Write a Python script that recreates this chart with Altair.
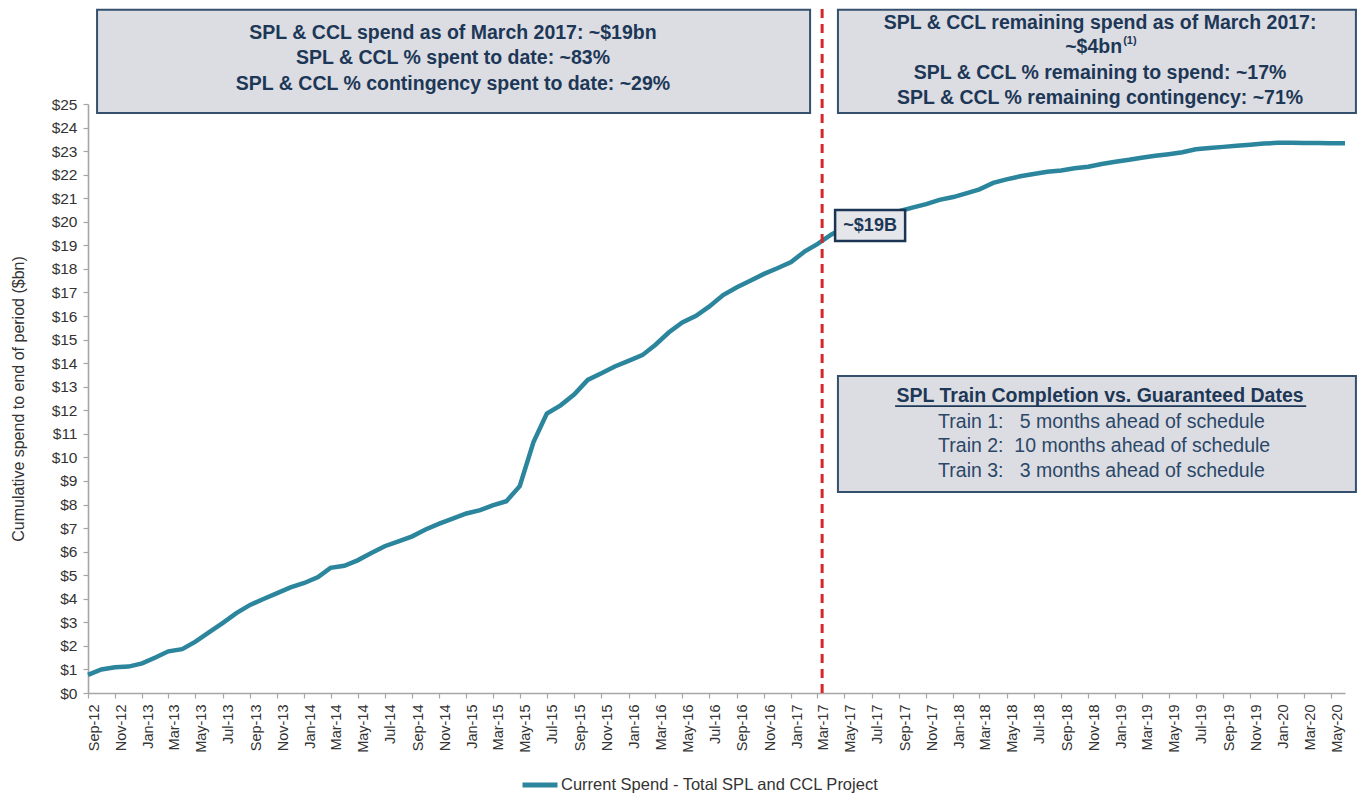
import altair as alt
import pandas as pd

# ---------------- data ----------------
months = pd.date_range("2012-09-01", periods=94, freq="MS").strftime("%Y-%m-%dT00:00:00").tolist()
spend = [
    0.77, 1.00, 1.09, 1.12, 1.26, 1.52, 1.77, 1.86, 2.18, 2.58,
    2.97, 3.39, 3.74, 3.99, 4.24, 4.48, 4.67, 4.92, 5.31, 5.40,
    5.63, 5.94, 6.23, 6.44, 6.65, 6.94, 7.19, 7.40, 7.62, 7.76,
    7.96, 8.14, 8.78, 10.65, 11.86, 12.21, 12.68, 13.29, 13.57, 13.86,
    14.10, 14.34, 14.77, 15.31, 15.73, 16.01, 16.41, 16.89, 17.22, 17.50,
    17.79, 18.03, 18.29, 18.75, 19.05, 19.45, 19.75, 19.95, 20.15, 20.30,
    20.45, 20.60, 20.75, 20.93, 21.05, 21.22, 21.38, 21.65, 21.80, 21.93,
    22.03, 22.12, 22.18, 22.27, 22.34, 22.45, 22.55, 22.63, 22.72, 22.80,
    22.87, 22.95, 23.08, 23.13, 23.18, 23.23, 23.27, 23.32, 23.35, 23.35,
    23.34, 23.34, 23.33, 23.33,
]
series_name = "Current Spend - Total SPL and CCL Project"
y_ticks = list(range(0, 26))

box1_lines = [
    "SPL & CCL spend as of March 2017: ~$19bn",
    "SPL & CCL % spent to date: ~83%",
    "SPL & CCL % contingency spent to date: ~29%",
]
box2_lines = [
    "SPL & CCL remaining spend as of March 2017:",
    "SPL & CCL % remaining to spend: ~17%",
    "SPL & CCL % remaining contingency: ~71%",
]
box2_amount = "~$4bn"
box2_note = "(1)"
box3_title = "SPL Train Completion vs. Guaranteed Dates"
box3_lines = [
    "Train 1:\u00a0\u00a0\u00a05 months ahead of schedule",
    "Train 2:\u00a0\u00a010 months ahead of schedule",
    "Train 3:\u00a0\u00a0\u00a03 months ahead of schedule",
]
callout = "~$19B"

# ---------------- helpers ----------------
START = pd.Timestamp("2012-09-01")


def at(m):
    """month offset from Sep-2012 -> local datetime string"""
    return (START + pd.Timedelta(days=m * 30.4328)).strftime("%Y-%m-%dT%H:%M:%S")


FONT = "Liberation Sans, Arial, sans-serif"
NAVY = "#1d3757"
BOX_FILL = "#dcdde2"
BOX_STROKE = "#34506e"
TEAL = "#2b859c"

line_df = pd.DataFrame({"month": months, "spend": spend, "series": series_name})

x_scale = alt.Scale(domain=[alt.DateTime(year=2012, month=9, date=1),
                            alt.DateTime(year=2020, month=6, date=1)])
y_scale = alt.Scale(domain=[0, 25], nice=False, zero=True)

X_AXIS = alt.Axis(title=None, format="%b-%y",
                  tickCount=alt.TimeIntervalStep(interval="month", step=2),
                  labelAngle=270, labelAlign="right", labelBaseline="middle",
                  labelOffset=6, labelPadding=6, labelFontSize=14.5,
                  labelFont=FONT, labelColor="#333333", grid=False,
                  domainColor="#a6a6a6", domainWidth=1.6,
                  tickColor="#a6a6a6", tickSize=5, tickWidth=1.2,
                  labelOverlap=False)
Y_AXIS = alt.Axis(title="Cumulative spend to end of period ($bn)",
                  values=y_ticks, labelExpr="'$' + datum.value",
                  labelOverlap=False,
                  labelFontSize=15.5, labelFont=FONT, labelColor="#333333",
                  labelPadding=6, grid=False,
                  domainColor="#a6a6a6", domainWidth=1.6,
                  tickColor="#a6a6a6", tickSize=5, tickWidth=1.2,
                  titleFont=FONT, titleFontSize=16, titleFontWeight="normal",
                  titleColor="#333333", titleAngle=270, titleAlign="center",
                  titleBaseline="middle", titleX=-70, titleY=294.5)


def X(field):
    return alt.X(field, scale=x_scale, axis=X_AXIS)


def Y(field):
    return alt.Y(field, scale=y_scale, axis=Y_AXIS)


line = alt.Chart(line_df).mark_line(strokeWidth=4.5, clip=False).encode(
    x=X("month:T"),
    y=Y("spend:Q"),
    color=alt.Color("series:N", scale=alt.Scale(range=[TEAL]),
                    legend=alt.Legend(title=None, orient="none", legendX=432, legendY=661,
                                      symbolType="stroke", symbolSize=1225,
                                      symbolStrokeWidth=5, labelFont=FONT,
                                      labelFontSize=16.5, labelColor="#333333",
                                      labelLimit=0, labelOffset=1, padding=0)),
)

# dashed March-2017 marker
rule_df = pd.DataFrame({"x": [at(54.31)], "y": [0.0], "y2": [29.4]})
rule = alt.Chart(rule_df).mark_rule(color="#d7262b", strokeWidth=3, strokeDash=[9, 6]).encode(
    x=X("x:T"), y=Y("y:Q"), y2="y2:Q")

# annotation boxes
boxes_df = pd.DataFrame({
    "x": [at(0.67), at(55.48), at(55.48)],
    "x2": [at(53.42), at(93.8), at(93.8)],
    "y": [29.0, 29.0, 13.45],
    "y2": [24.62, 24.62, 8.53],
})
boxes = alt.Chart(boxes_df).mark_rect(fill=BOX_FILL, stroke=BOX_STROKE, strokeWidth=2).encode(
    x=X("x:T"), x2="x2:T", y=Y("y:Q"), y2="y2:Q")

bold_df = pd.DataFrame({
    "x": [at(27.0)] * 3 + [at(74.87)] * 3,
    "y": [28.01, 26.95, 25.85, 28.44, 26.32, 25.25],
    "t": box1_lines + box2_lines,
})
bold_text = alt.Chart(bold_df).mark_text(font=FONT, fontSize=19.5, fontWeight="bold",
                                         color=NAVY, align="center", baseline="middle").encode(
    x=X("x:T"), y=Y("y:Q"), text="t:N")

amt_df = pd.DataFrame({"x": [at(76.5)], "y": [27.42], "t": [box2_amount]})
amt_text = alt.Chart(amt_df).mark_text(font=FONT, fontSize=19.5, fontWeight="bold",
                                       color=NAVY, align="right", baseline="middle").encode(
    x=X("x:T"), y=Y("y:Q"), text="t:N")
note_df = pd.DataFrame({"x": [at(76.58)], "y": [27.67], "t": [box2_note]})
note_text = alt.Chart(note_df).mark_text(font=FONT, fontSize=11, fontWeight="bold",
                                         color=NAVY, align="left", baseline="middle").encode(
    x=X("x:T"), y=Y("y:Q"), text="t:N")

title3_df = pd.DataFrame({"x": [at(74.87)], "y": [12.61], "t": [box3_title]})
title3 = alt.Chart(title3_df).mark_text(font=FONT, fontSize=19.5, fontWeight="bold",
                                        color=NAVY, align="center", baseline="middle").encode(
    x=X("x:T"), y=Y("y:Q"), text="t:N")
uline_df = pd.DataFrame({"x": [at(59.71)], "x2": [at(90.12)], "y": [12.18]})
uline = alt.Chart(uline_df).mark_rule(color=NAVY, strokeWidth=1.8).encode(
    x=X("x:T"), x2="x2:T", y=Y("y:Q"))

lines3_df = pd.DataFrame({"x": [at(62.89)] * 3, "y": [11.50, 10.48, 9.42], "t": box3_lines})
lines3 = alt.Chart(lines3_df).mark_text(font=FONT, fontSize=19.5, fontWeight="normal",
                                        color="#2b4768", align="left", baseline="middle").encode(
    x=X("x:T"), y=Y("y:Q"), text="t:N")

# ~$19B callout
call_box_df = pd.DataFrame({"x": [at(55.27)], "x2": [at(60.45)], "y": [20.50], "y2": [19.19]})
call_box = alt.Chart(call_box_df).mark_rect(fill="#e4e6ea", stroke="#1c3553", strokeWidth=2.5).encode(
    x=X("x:T"), x2="x2:T", y=Y("y:Q"), y2="y2:Q")
call_txt_df = pd.DataFrame({"x": [at(57.86)], "y": [19.84], "t": [callout]})
call_txt = alt.Chart(call_txt_df).mark_text(font=FONT, fontSize=18, fontWeight="bold",
                                            color=NAVY, align="center", baseline="middle").encode(
    x=X("x:T"), y=Y("y:Q"), text="t:N")

chart = alt.layer(
    line, rule, boxes, bold_text, amt_text, note_text, title3, uline, lines3, call_box, call_txt
).properties(
    width=1257, height=589,
    background="white",
    autosize=alt.AutoSizeParams(type="none"),
    padding={"left": 80, "top": 96, "right": 15, "bottom": 103},
).configure_view(stroke=None)

chart.save("out.html", embed_options={"renderer": "svg", "actions": False})
